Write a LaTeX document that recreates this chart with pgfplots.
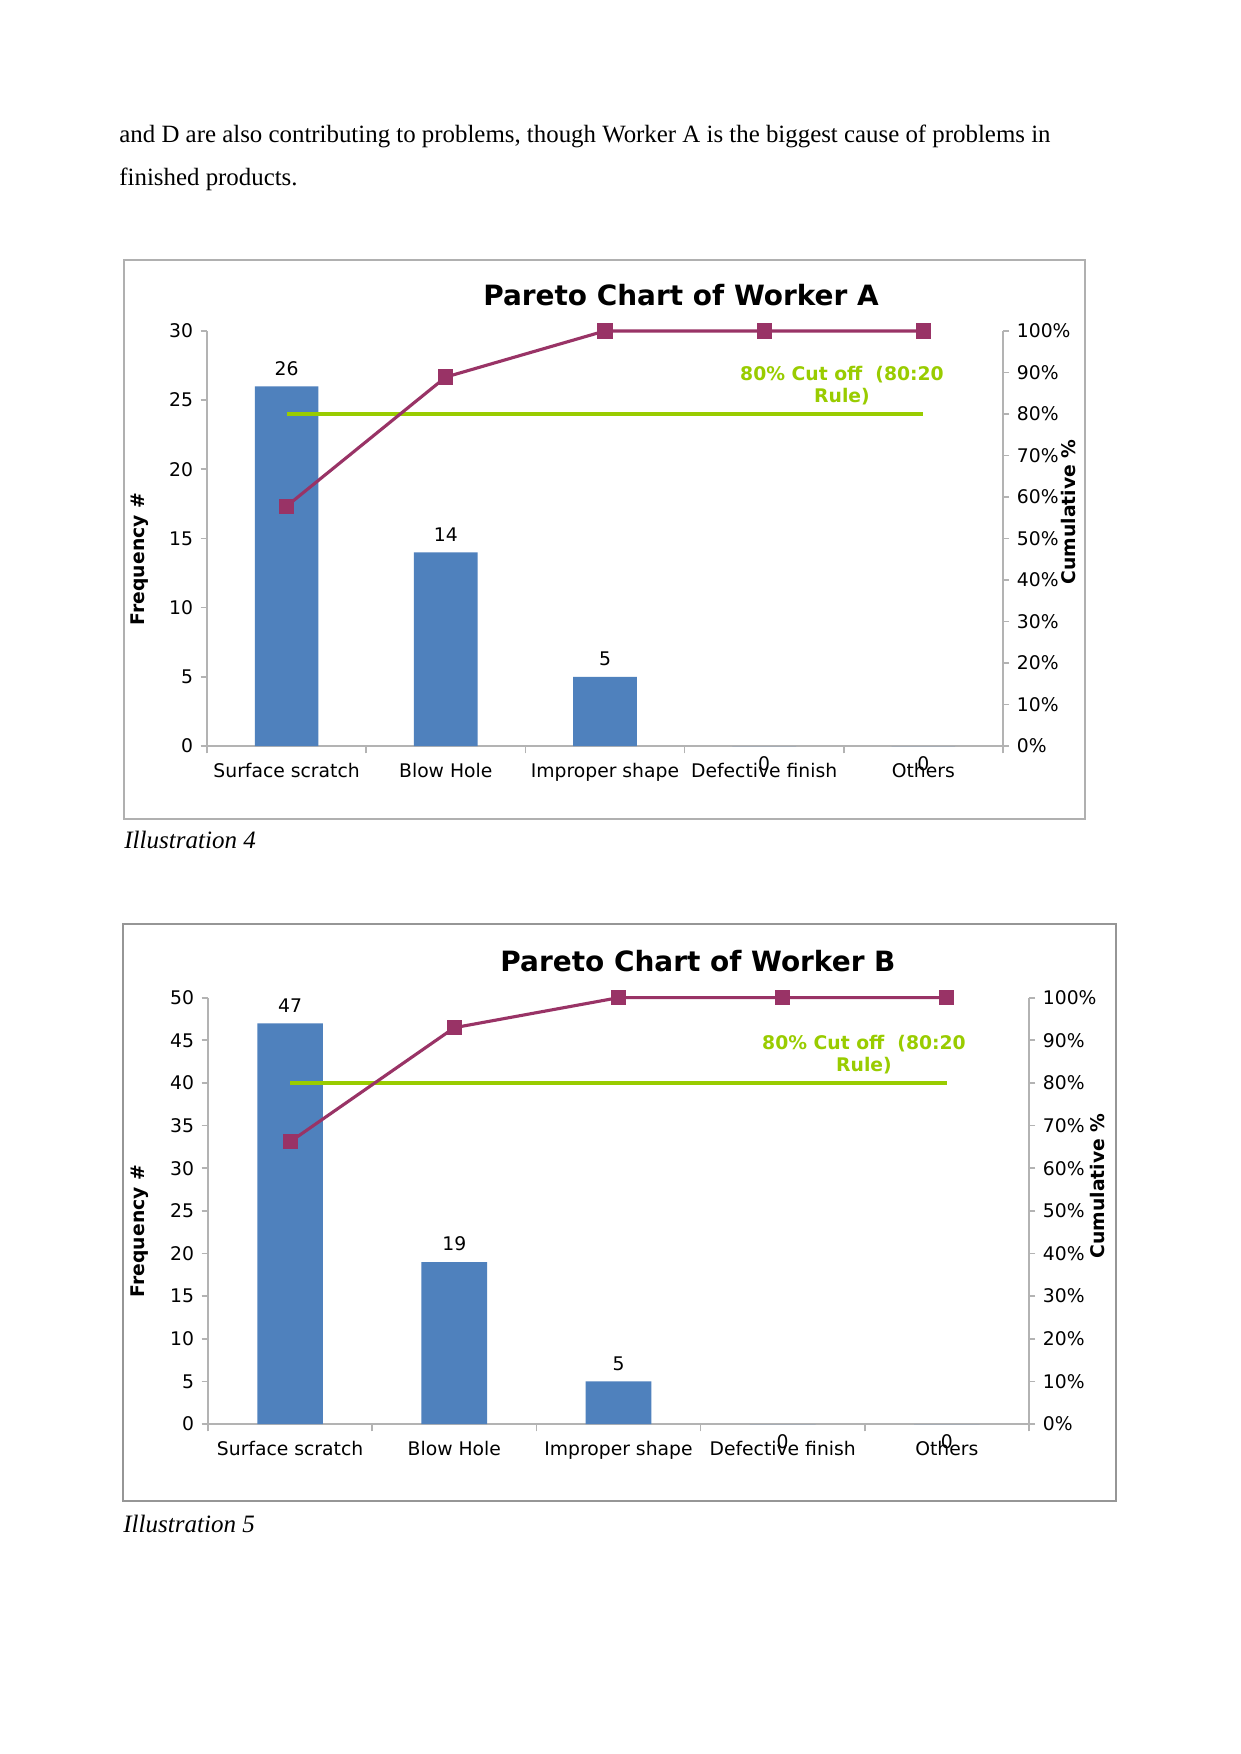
\documentclass[border=0pt]{standalone}
\usepackage{pgfplots}
\pgfplotsset{compat=1.18}
\usepackage{fontspec}
\setmainfont{Liberation Serif}
\newfontfamily\dejavu{DejaVu Sans}
\definecolor{barblue}{HTML}{4F81BD}
\definecolor{cumline}{HTML}{993366}
\definecolor{cutgreen}{HTML}{99CC00}
\definecolor{axgray}{HTML}{B3B3B3}
\definecolor{framegray}{HTML}{B0B0B0}

\pgfplotsset{
  pareto/.style={
    scale only axis, xmin=-0.5, xmax=4.5, clip=false,
    axis line style={draw=axgray, line width=0.8pt},
    tick align=outside,
    major tick length=3pt, minor tick length=3.5pt,
    tick label style={font=\dejavu\fontsize{9}{11}\selectfont, text=black},
    /pgf/number format/assume math mode=true,
  },
  paretoleft/.style={
    pareto, axis x line*=bottom, axis y line*=left,
    xtick={0,...,4},
    xticklabels={Surface scratch, Blow Hole, Improper shape, Defective finish, Others},
    major x tick style={draw=none},
    minor xtick={-0.5,0.5,...,4.5},
    minor x tick style={draw=axgray, line width=0.8pt},
    y tick style={draw=axgray, line width=0.8pt},
    ymin=0,
    xticklabel style={anchor=north, inner sep=0pt, yshift=-5pt},
    yticklabel style={anchor=east, inner sep=0pt, xshift=-3.5pt},
  },
  paretoright/.style={
    pareto, axis x line=none, axis y line*=right,
    ymin=0, ymax=100, ytick={0,10,...,100},
    y tick style={draw=axgray, line width=0.8pt},
    yticklabel={\pgfmathprintnumber{\tick}\%},
    yticklabel style={anchor=west, inner sep=0pt, xshift=3.5pt},
  },
  barplot/.style={ybar, bar width=0.4, fill=barblue, draw=none,
    nodes near coords,
    nodes near coords style={font=\dejavu\fontsize{9}{11}\selectfont, text=black, anchor=south, inner sep=0pt, yshift=5pt}},
  zerolabel/.style={ybar, bar width=0.4, fill=barblue, draw=none,
    nodes near coords,
    nodes near coords style={font=\dejavu\fontsize{9}{11}\selectfont, text=black, anchor=north, inner sep=0pt, yshift=-5pt}},
  cumplot/.style={cumline, line width=1.5pt, mark=square*, mark size=3.4pt,
    mark options={fill=cumline, draw=cumline, line width=0pt}},
  cutplot/.style={cutgreen, line width=1.6pt},
}

\begin{document}
\begin{tikzpicture}
\begin{scope}[x=0.47968pt, y=-0.47968pt]
  \path[use as bounding box, fill=white] (0,0) rectangle (1241,1754);
  \coordinate (A0) at (207,746);
  \coordinate (B0) at (208,1424);
  % body text
  \node[anchor=base west, inner sep=0pt, font=\fontsize{11.93}{14}\selectfont] at (119,142)
    {and D are also contributing to problems, though Worker A is the biggest cause of problems in};
  \node[anchor=base west, inner sep=0pt, font=\fontsize{11.93}{14}\selectfont] at (119,185)
    {finished products.};
  % frames
  \draw[framegray, line width=0.8pt] (124,260) rectangle (1085,819);
  \draw[framegray!85!black, line width=0.8pt] (123,924) rectangle (1116,1501);
  % captions
  \node[anchor=base west, inner sep=0pt, font=\itshape\fontsize{12}{14}\selectfont] at (124,848) {Illustration 4};
  \node[anchor=base west, inner sep=0pt, font=\itshape\fontsize{12}{14}\selectfont] at (123,1532) {Illustration 5};
  % chart A texts
  \node[font=\dejavu\bfseries\fontsize{13.4}{15}\selectfont] at (681,295) {Pareto Chart of Worker A};
  \node[rotate=90, font=\dejavu\bfseries\fontsize{9}{11}\selectfont] at (140,559) {Frequency \#};
  \node[rotate=90, font=\dejavu\bfseries\fontsize{9}{11}\selectfont] at (1068,512) {Cumulative \%};
  \node[align=center, text=cutgreen, inner sep=0pt, font=\dejavu\bfseries\fontsize{9}{10.5}\selectfont] at (842,386) {80\% Cut off\ \ (80:20\\Rule)};
  % chart B texts
  \node[font=\dejavu\bfseries\fontsize{13.4}{15}\selectfont] at (698,961) {Pareto Chart of Worker B};
  \node[rotate=90, font=\dejavu\bfseries\fontsize{9}{11}\selectfont] at (140,1231) {Frequency \#};
  \node[rotate=90, font=\dejavu\bfseries\fontsize{9}{11}\selectfont] at (1097,1186) {Cumulative \%};
  \node[align=center, text=cutgreen, inner sep=0pt, font=\dejavu\bfseries\fontsize{9}{10.5}\selectfont] at (864,1055) {80\% Cut off\ \ (80:20\\Rule)};
\end{scope}

% ---------- Chart A ----------
\begin{axis}[paretoleft, at={(A0)}, anchor=south west,
  width=381.8pt, height=199.1pt, ymax=30, ytick={0,5,...,30}]
  \addplot[barplot] coordinates {(0,26) (1,14) (2,5)};
  \addplot[zerolabel] coordinates {(3,0) (4,0)};
\end{axis}
\begin{axis}[paretoright, at={(A0)}, anchor=south west,
  width=381.8pt, height=199.1pt]
  \addplot[cutplot] coordinates {(0,80) (4,80)};
  \addplot[cumplot] coordinates {(0,57.78) (1,88.89) (2,100) (3,100) (4,100)};
\end{axis}

% ---------- Chart B ----------
\begin{axis}[paretoleft, at={(B0)}, anchor=south west,
  width=393.8pt, height=204.5pt, ymax=50, ytick={0,5,...,50}]
  \addplot[barplot] coordinates {(0,47) (1,19) (2,5)};
  \addplot[zerolabel] coordinates {(3,0) (4,0)};
\end{axis}
\begin{axis}[paretoright, at={(B0)}, anchor=south west,
  width=393.8pt, height=204.5pt]
  \addplot[cutplot] coordinates {(0,80) (4,80)};
  \addplot[cumplot] coordinates {(0,66.20) (1,92.96) (2,100) (3,100) (4,100)};
\end{axis}
\end{tikzpicture}
\end{document}
